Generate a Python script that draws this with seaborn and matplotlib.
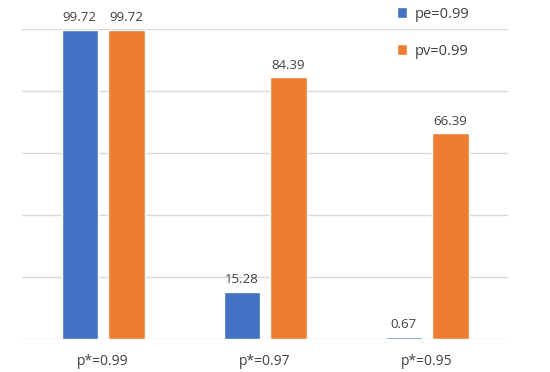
import pandas as pd
import matplotlib.pyplot as plt
import seaborn as sns

# Data
categories = ["p*=0.99", "p*=0.97", "p*=0.95"]
series = ["pe=0.99", "pv=0.99"]
pe_values = [99.72, 15.28, 0.67]
pv_values = [99.72, 84.39, 66.39]

df = pd.DataFrame({
    "category": categories * 2,
    "series": [series[0]] * 3 + [series[1]] * 3,
    "value": pe_values + pv_values,
})

sns.set_style("white")
plt.rcParams["font.family"] = ["Open Sans", "DejaVu Sans"]

fig = plt.figure(figsize=(5.5, 3.72), dpi=100)
ax = fig.add_axes([0.04, 0.089, 0.884, 0.833])

sns.barplot(
    data=df, x="category", y="value", hue="series",
    palette=["#4472C4", "#ED7D31"], saturation=1,
    width=0.574, gap=0.215, ax=ax, zorder=3,
)

for container in ax.containers:
    ax.bar_label(container, fmt="%.2f", padding=4, fontsize=9.5, color="#404040")

ax.set_ylim(0, 100)
ax.set_yticks([0, 20, 40, 60, 80, 100])
ax.yaxis.grid(True, color="#d9d9d9", linewidth=1, zorder=0)
ax.set_yticklabels([])
ax.tick_params(axis="y", length=0)
ax.tick_params(axis="x", length=0, labelsize=10, labelcolor="#404040", pad=11)
ax.set_xlabel("")
ax.set_ylabel("")
for s in ax.spines.values():
    s.set_visible(False)

ax.legend(
    loc="upper left", bbox_to_anchor=(0.722, 0.982),
    bbox_transform=fig.transFigure, frameon=False,
    borderpad=0, borderaxespad=0,
    fontsize=10.5, labelcolor="#404040", handlelength=0.7, handleheight=0.7,
    handletextpad=0.5, labelspacing=1.5,
)

plt.savefig("out.png", dpi=100)
